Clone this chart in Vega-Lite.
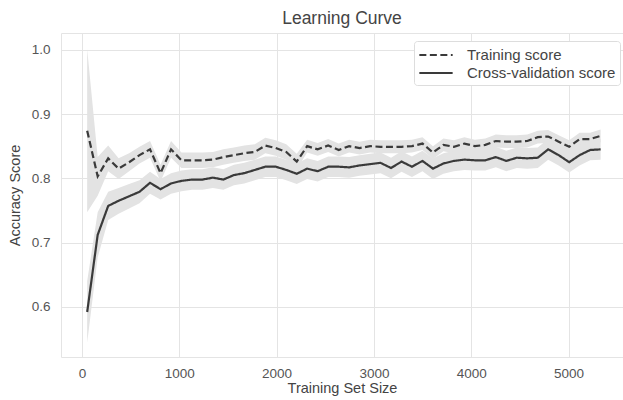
{
  "$schema": "https://vega.github.io/schema/vega-lite/v6.json",
  "autosize": {"type": "none"},
  "padding": {"left": 61, "top": 33, "right": 0, "bottom": 43},
  "width": 562,
  "height": 324,
  "background": "white",
  "title": {"text": "Learning Curve", "fontSize": 17.5, "fontWeight": "normal", "color": "#444444", "font": "Liberation Sans", "offset": 6},
  "config": {
    "font": "Liberation Sans",
    "view": {"stroke": "#e4e4e4", "strokeWidth": 1},
    "axis": {
      "grid": true,
      "gridColor": "#e4e4e4",
      "gridWidth": 1,
      "domain": false,
      "ticks": false,
      "labelColor": "#555555",
      "labelFontSize": 13.5,
      "titleColor": "#444444",
      "titleFontSize": 14.5,
      "titleFontWeight": "normal"
    },
    "legend": {
      "orient": "none",
      "legendX": 353,
      "legendY": 8,
      "fillColor": "white",
      "strokeColor": "#dddddd",
      "padding": 4,
      "cornerRadius": 3,
      "labelFontSize": 15,
      "labelColor": "#444444",
      "symbolType": "M-1.85,0H1.85",
      "symbolSize": 324,
      "symbolStrokeWidth": 2,
      "symbolStrokeColor": "#3a3a3a",
      "symbolOffset": 8,
      "rowPadding": 0,
      "labelOffset": 21
    }
  },
  "datasets": {
    "curve": [
      {"size": 53, "series": "Training score", "score": 0.874, "lo": 0.747, "hi": 1.001},
      {"size": 161, "series": "Training score", "score": 0.803, "lo": 0.773, "hi": 0.833},
      {"size": 269, "series": "Training score", "score": 0.831, "lo": 0.811, "hi": 0.851},
      {"size": 376, "series": "Training score", "score": 0.815, "lo": 0.799, "hi": 0.831},
      {"size": 484, "series": "Training score", "score": 0.825, "lo": 0.811, "hi": 0.839},
      {"size": 591, "series": "Training score", "score": 0.836, "lo": 0.823, "hi": 0.849},
      {"size": 699, "series": "Training score", "score": 0.845, "lo": 0.832, "hi": 0.858},
      {"size": 807, "series": "Training score", "score": 0.808, "lo": 0.795, "hi": 0.821},
      {"size": 915, "series": "Training score", "score": 0.845, "lo": 0.832, "hi": 0.858},
      {"size": 1022, "series": "Training score", "score": 0.828, "lo": 0.816, "hi": 0.840},
      {"size": 1130, "series": "Training score", "score": 0.828, "lo": 0.816, "hi": 0.840},
      {"size": 1238, "series": "Training score", "score": 0.828, "lo": 0.816, "hi": 0.840},
      {"size": 1345, "series": "Training score", "score": 0.829, "lo": 0.817, "hi": 0.841},
      {"size": 1453, "series": "Training score", "score": 0.833, "lo": 0.821, "hi": 0.845},
      {"size": 1561, "series": "Training score", "score": 0.836, "lo": 0.824, "hi": 0.848},
      {"size": 1668, "series": "Training score", "score": 0.839, "lo": 0.827, "hi": 0.851},
      {"size": 1776, "series": "Training score", "score": 0.841, "lo": 0.829, "hi": 0.853},
      {"size": 1884, "series": "Training score", "score": 0.851, "lo": 0.839, "hi": 0.863},
      {"size": 1991, "series": "Training score", "score": 0.847, "lo": 0.835, "hi": 0.859},
      {"size": 2099, "series": "Training score", "score": 0.841, "lo": 0.829, "hi": 0.853},
      {"size": 2207, "series": "Training score", "score": 0.826, "lo": 0.814, "hi": 0.838},
      {"size": 2314, "series": "Training score", "score": 0.850, "lo": 0.840, "hi": 0.860},
      {"size": 2422, "series": "Training score", "score": 0.845, "lo": 0.835, "hi": 0.855},
      {"size": 2530, "series": "Training score", "score": 0.851, "lo": 0.841, "hi": 0.861},
      {"size": 2638, "series": "Training score", "score": 0.844, "lo": 0.834, "hi": 0.854},
      {"size": 2745, "series": "Training score", "score": 0.850, "lo": 0.840, "hi": 0.860},
      {"size": 2853, "series": "Training score", "score": 0.847, "lo": 0.837, "hi": 0.857},
      {"size": 2961, "series": "Training score", "score": 0.850, "lo": 0.840, "hi": 0.860},
      {"size": 3068, "series": "Training score", "score": 0.849, "lo": 0.839, "hi": 0.859},
      {"size": 3176, "series": "Training score", "score": 0.849, "lo": 0.839, "hi": 0.859},
      {"size": 3284, "series": "Training score", "score": 0.849, "lo": 0.839, "hi": 0.859},
      {"size": 3391, "series": "Training score", "score": 0.850, "lo": 0.840, "hi": 0.860},
      {"size": 3499, "series": "Training score", "score": 0.854, "lo": 0.844, "hi": 0.864},
      {"size": 3607, "series": "Training score", "score": 0.840, "lo": 0.830, "hi": 0.850},
      {"size": 3714, "series": "Training score", "score": 0.852, "lo": 0.842, "hi": 0.862},
      {"size": 3822, "series": "Training score", "score": 0.849, "lo": 0.839, "hi": 0.859},
      {"size": 3930, "series": "Training score", "score": 0.854, "lo": 0.844, "hi": 0.864},
      {"size": 4037, "series": "Training score", "score": 0.850, "lo": 0.840, "hi": 0.860},
      {"size": 4145, "series": "Training score", "score": 0.852, "lo": 0.842, "hi": 0.862},
      {"size": 4253, "series": "Training score", "score": 0.858, "lo": 0.848, "hi": 0.868},
      {"size": 4361, "series": "Training score", "score": 0.857, "lo": 0.847, "hi": 0.867},
      {"size": 4468, "series": "Training score", "score": 0.857, "lo": 0.847, "hi": 0.867},
      {"size": 4576, "series": "Training score", "score": 0.858, "lo": 0.848, "hi": 0.868},
      {"size": 4684, "series": "Training score", "score": 0.864, "lo": 0.854, "hi": 0.874},
      {"size": 4791, "series": "Training score", "score": 0.865, "lo": 0.855, "hi": 0.875},
      {"size": 4899, "series": "Training score", "score": 0.857, "lo": 0.847, "hi": 0.867},
      {"size": 5007, "series": "Training score", "score": 0.849, "lo": 0.839, "hi": 0.859},
      {"size": 5114, "series": "Training score", "score": 0.861, "lo": 0.851, "hi": 0.871},
      {"size": 5222, "series": "Training score", "score": 0.861, "lo": 0.851, "hi": 0.871},
      {"size": 5330, "series": "Training score", "score": 0.866, "lo": 0.856, "hi": 0.876},
      {"size": 53, "series": "Cross-validation score", "score": 0.592, "lo": 0.544, "hi": 0.640},
      {"size": 161, "series": "Cross-validation score", "score": 0.712, "lo": 0.677, "hi": 0.747},
      {"size": 269, "series": "Cross-validation score", "score": 0.757, "lo": 0.735, "hi": 0.779},
      {"size": 376, "series": "Cross-validation score", "score": 0.765, "lo": 0.745, "hi": 0.785},
      {"size": 484, "series": "Cross-validation score", "score": 0.772, "lo": 0.753, "hi": 0.791},
      {"size": 591, "series": "Cross-validation score", "score": 0.779, "lo": 0.761, "hi": 0.797},
      {"size": 699, "series": "Cross-validation score", "score": 0.793, "lo": 0.776, "hi": 0.810},
      {"size": 807, "series": "Cross-validation score", "score": 0.783, "lo": 0.767, "hi": 0.799},
      {"size": 915, "series": "Cross-validation score", "score": 0.792, "lo": 0.776, "hi": 0.808},
      {"size": 1022, "series": "Cross-validation score", "score": 0.796, "lo": 0.780, "hi": 0.812},
      {"size": 1130, "series": "Cross-validation score", "score": 0.798, "lo": 0.782, "hi": 0.814},
      {"size": 1238, "series": "Cross-validation score", "score": 0.798, "lo": 0.782, "hi": 0.814},
      {"size": 1345, "series": "Cross-validation score", "score": 0.801, "lo": 0.785, "hi": 0.817},
      {"size": 1453, "series": "Cross-validation score", "score": 0.798, "lo": 0.782, "hi": 0.814},
      {"size": 1561, "series": "Cross-validation score", "score": 0.805, "lo": 0.789, "hi": 0.821},
      {"size": 1668, "series": "Cross-validation score", "score": 0.808, "lo": 0.792, "hi": 0.824},
      {"size": 1776, "series": "Cross-validation score", "score": 0.813, "lo": 0.797, "hi": 0.829},
      {"size": 1884, "series": "Cross-validation score", "score": 0.818, "lo": 0.802, "hi": 0.834},
      {"size": 1991, "series": "Cross-validation score", "score": 0.818, "lo": 0.802, "hi": 0.834},
      {"size": 2099, "series": "Cross-validation score", "score": 0.813, "lo": 0.797, "hi": 0.829},
      {"size": 2207, "series": "Cross-validation score", "score": 0.807, "lo": 0.791, "hi": 0.823},
      {"size": 2314, "series": "Cross-validation score", "score": 0.815, "lo": 0.799, "hi": 0.831},
      {"size": 2422, "series": "Cross-validation score", "score": 0.811, "lo": 0.795, "hi": 0.827},
      {"size": 2530, "series": "Cross-validation score", "score": 0.818, "lo": 0.802, "hi": 0.834},
      {"size": 2638, "series": "Cross-validation score", "score": 0.818, "lo": 0.802, "hi": 0.834},
      {"size": 2745, "series": "Cross-validation score", "score": 0.817, "lo": 0.801, "hi": 0.833},
      {"size": 2853, "series": "Cross-validation score", "score": 0.820, "lo": 0.804, "hi": 0.836},
      {"size": 2961, "series": "Cross-validation score", "score": 0.822, "lo": 0.806, "hi": 0.838},
      {"size": 3068, "series": "Cross-validation score", "score": 0.824, "lo": 0.808, "hi": 0.840},
      {"size": 3176, "series": "Cross-validation score", "score": 0.816, "lo": 0.800, "hi": 0.832},
      {"size": 3284, "series": "Cross-validation score", "score": 0.826, "lo": 0.810, "hi": 0.842},
      {"size": 3391, "series": "Cross-validation score", "score": 0.818, "lo": 0.802, "hi": 0.834},
      {"size": 3499, "series": "Cross-validation score", "score": 0.827, "lo": 0.811, "hi": 0.843},
      {"size": 3607, "series": "Cross-validation score", "score": 0.815, "lo": 0.799, "hi": 0.831},
      {"size": 3714, "series": "Cross-validation score", "score": 0.823, "lo": 0.807, "hi": 0.839},
      {"size": 3822, "series": "Cross-validation score", "score": 0.827, "lo": 0.811, "hi": 0.843},
      {"size": 3930, "series": "Cross-validation score", "score": 0.829, "lo": 0.813, "hi": 0.845},
      {"size": 4037, "series": "Cross-validation score", "score": 0.828, "lo": 0.812, "hi": 0.844},
      {"size": 4145, "series": "Cross-validation score", "score": 0.828, "lo": 0.812, "hi": 0.844},
      {"size": 4253, "series": "Cross-validation score", "score": 0.833, "lo": 0.817, "hi": 0.849},
      {"size": 4361, "series": "Cross-validation score", "score": 0.827, "lo": 0.811, "hi": 0.843},
      {"size": 4468, "series": "Cross-validation score", "score": 0.832, "lo": 0.816, "hi": 0.848},
      {"size": 4576, "series": "Cross-validation score", "score": 0.831, "lo": 0.815, "hi": 0.847},
      {"size": 4684, "series": "Cross-validation score", "score": 0.832, "lo": 0.816, "hi": 0.848},
      {"size": 4791, "series": "Cross-validation score", "score": 0.845, "lo": 0.829, "hi": 0.861},
      {"size": 4899, "series": "Cross-validation score", "score": 0.836, "lo": 0.820, "hi": 0.852},
      {"size": 5007, "series": "Cross-validation score", "score": 0.825, "lo": 0.809, "hi": 0.841},
      {"size": 5114, "series": "Cross-validation score", "score": 0.836, "lo": 0.820, "hi": 0.852},
      {"size": 5222, "series": "Cross-validation score", "score": 0.844, "lo": 0.828, "hi": 0.860},
      {"size": 5330, "series": "Cross-validation score", "score": 0.845, "lo": 0.829, "hi": 0.861}
    ]
  },
  "data": {"name": "curve"},
  "encoding": {
    "x": {
      "field": "size",
      "type": "quantitative",
      "title": "Training Set Size",
      "scale": {"domain": [-216, 5560], "nice": false, "zero": false},
      "axis": {"values": [0, 1000, 2000, 3000, 4000, 5000], "format": "d", "labelPadding": 9, "titlePadding": 2}
    }
  },
  "layer": [
    {
      "mark": {"type": "area", "color": "#e3e3e3", "opacity": 1},
      "encoding": {
        "y": {
          "field": "lo",
          "type": "quantitative",
          "title": "Accuracy Score",
          "scale": {"domain": [0.522, 1.026], "nice": false, "zero": false},
          "axis": {"values": [0.6, 0.7, 0.8, 0.9, 1.0], "format": ".1f", "labelPadding": 11, "titlePadding": 9}
        },
        "y2": {"field": "hi"},
        "detail": {"field": "series"}
      }
    },
    {
      "mark": {"type": "line", "color": "#3a3a3a", "strokeWidth": 2.2},
      "encoding": {
        "y": {"field": "score", "type": "quantitative"},
        "strokeDash": {
          "field": "series",
          "type": "nominal",
          "scale": {"domain": ["Training score", "Cross-validation score"], "range": [[7, 3.5], [1, 0]]},
          "legend": {"title": null}
        }
      }
    }
  ]
}
